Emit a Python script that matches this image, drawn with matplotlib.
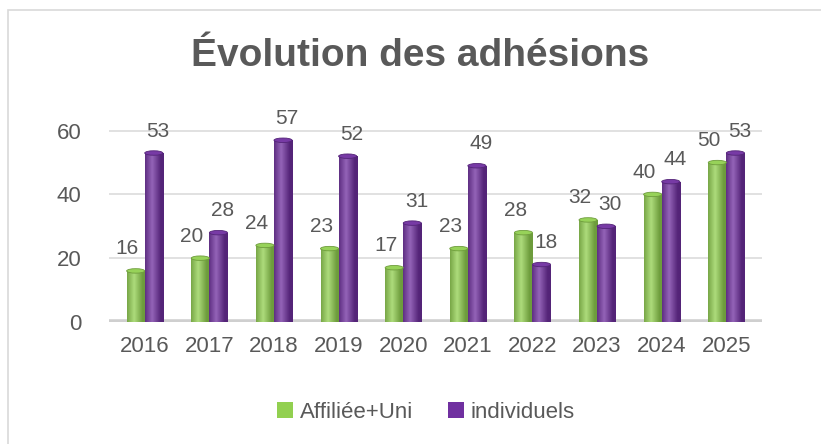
import numpy as np
import matplotlib
matplotlib.use("Agg")
from matplotlib import pyplot as plt
from matplotlib.patches import Rectangle, Ellipse

# donnees
annees = ["2016", "2017", "2018", "2019", "2020", "2021", "2022", "2023", "2024", "2025"]
affiliee = [16, 20, 24, 23, 17, 23, 28, 32, 40, 50]
individuels = [53, 28, 57, 52, 31, 49, 18, 30, 44, 53]
series = ["Affiliée+Uni", "individuels"]
couleurs = ["#92D050", "#7030A0"]

plt.rcParams['font.family'] = ['Liberation Sans', 'DejaVu Sans']
gris = "#595959"

fig = plt.figure(figsize=(8.21, 4.44), dpi=100)
ax = fig.add_axes([0.133, 0.275, 0.795, 0.445])

# cadre du graphique
fig.patches.append(Rectangle((8 / 821, -0.1), 1.2, 1 - 10 / 444 + 0.1,
                             transform=fig.transFigure, fill=False,
                             edgecolor="#d9d9d9", linewidth=1.2))

x = np.arange(len(annees))
larg = 0.28


def eclaircir(c, f):
    c = np.array(matplotlib.colors.to_rgb(c))
    return c + (1 - c) * f


def assombrir(c, f):
    c = np.array(matplotlib.colors.to_rgb(c))
    return c * (1 - f)


# degrade horizontal pour simuler un cylindre
t = np.linspace(0, 1, 64)
decal = [-6, 3]
for k, (vals, col) in enumerate(zip([affiliee, individuels], couleurs)):
    clair = eclaircir(col, 0.25)
    fonce = assombrir(col, 0.25)
    prof = np.clip(1 - np.abs(t - 0.38) * 2.2, 0, 1)
    grad = np.array([fonce + (clair - fonce) * p for p in prof])[None, :, :]
    pos = x + (k - 0.5) * larg
    bars = ax.bar(pos, vals, larg, color=col, label=series[k], zorder=3)
    for b, v in zip(bars, vals):
        im = ax.imshow(grad, extent=[b.get_x(), b.get_x() + larg, 0, v],
                       aspect="auto", zorder=3.1, interpolation="bilinear")
        im.set_clip_path(b)
        ax.add_patch(Ellipse((b.get_x() + larg / 2, v), larg, 1.4,
                             facecolor=eclaircir(col, 0.05), edgecolor=fonce,
                             linewidth=0.6, zorder=3.2))
        ax.annotate(str(v), (b.get_x() + larg / 2, v), xytext=(decal[k], 9),
                    textcoords="offset points", ha="center", va="bottom",
                    fontsize=15, color=gris, zorder=5)

ax.set_xlim(-0.55, 9.55)
ax.set_ylim(0, 62)
ax.set_yticks([0, 20, 40, 60])
ax.set_xticks(x)
ax.set_xticklabels(annees)
ax.tick_params(axis="both", length=0, labelsize=16, colors=gris)
ax.tick_params(axis="y", pad=20)
ax.tick_params(axis="x", pad=10)
for s in ax.spines.values():
    s.set_visible(False)
ax.grid(axis="y", color="#dcdcdc", linewidth=1.2, zorder=0)
ax.axhline(0, color="#cfcfcf", linewidth=4, zorder=2)

fig.text(0.512, 0.875, "Évolution des adhésions", ha="center", va="center",
         fontsize=28, fontweight="bold", color=gris,
         family=["Liberation Sans Narrow", "Liberation Sans", "DejaVu Sans"])

fig.legend(loc="center", bbox_to_anchor=(0.519, 0.072), ncol=2, frameon=False,
           fontsize=16, labelcolor=gris, handlelength=0.7, handleheight=0.7,
           handletextpad=0.3, columnspacing=1.6)

fig.savefig("out.png", dpi=100)
